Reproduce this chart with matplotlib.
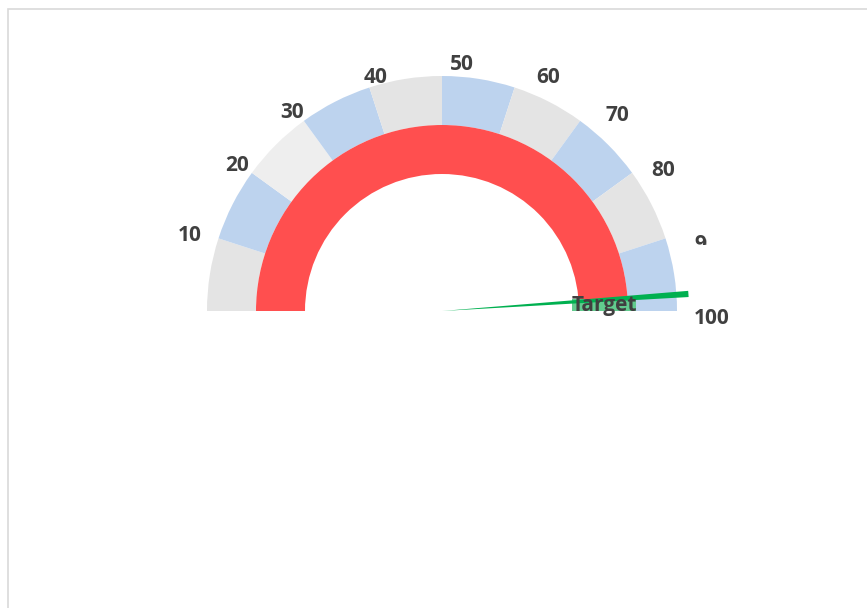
import numpy as np
import matplotlib
matplotlib.use('Agg')
import matplotlib.pyplot as plt
from matplotlib.patches import Wedge, Rectangle

# gauge data
band_values = [10, 10, 10, 10, 10, 10, 10, 10, 10, 10]
band_colors = ['#E4E4E4', '#BDD3EE', '#EEEEEE', '#BDD3EE', '#E4E4E4',
               '#BDD3EE', '#E4E4E4', '#BDD3EE', '#E4E4E4', '#BDD3EE']
tick_labels = ['10', '20', '30', '40', '50', '60', '70', '80', '90', '100']
actual_value = 100
target_value = 97.8
target_width = 0.8
target_label = 'Target'

# label nudges in pixels (dx right, dy down) - Excel places them a bit off
label_nudge = [(-7, 4), (4, 6), (2, 10), (13, 12), (20, 11),
               (26, 12), (24, 13), (12, 11), (19, 13), (12, 7)]

W, H = 867, 608
cx, cy = 442, H - 311
r_out, ring_w = 235, 49
r_red, red_w = 186, 49
r_needle = 247
total = sum(band_values)
FONT = 'Open Sans'


def ang(v):
    return 180 - 180.0 * v / total


fig = plt.figure(figsize=(W / 100, H / 100), dpi=100)
ax = fig.add_axes([0, 0, 1, 1])
ax.set_xlim(0, W)
ax.set_ylim(0, H)
ax.axis('off')

# chart frame (cut off at right and bottom)
ax.add_patch(Rectangle((7.5, -20), W + 40, H - 8.5 + 20, fill=False,
                       edgecolor='#D9D9D9', lw=1.2))

# outer scale bands
start = 0
for v, c in zip(band_values, band_colors):
    ax.add_patch(Wedge((cx, cy), r_out, ang(start + v), ang(start),
                       width=ring_w, facecolor=c, edgecolor='none'))
    start += v

# red value ring
ax.add_patch(Wedge((cx, cy), r_red, ang(actual_value), ang(0),
                   width=red_w, facecolor='#FF4F4F', edgecolor='none'))

# target needle
ax.add_patch(Wedge((cx, cy), r_needle, ang(target_value + target_width / 2),
                   ang(target_value - target_width / 2),
                   facecolor='#00B050', edgecolor='none', zorder=3))

# scale labels
cum = np.cumsum(band_values)
clip = Rectangle((0, H - 245), 707, 245, transform=ax.transData)
for lab, v, (dx, dy) in zip(tick_labels, cum, label_nudge):
    th = np.deg2rad(ang(v))
    x = cx + 258 * np.cos(th) + dx
    y = cy + 258 * np.sin(th) - dy
    t = ax.text(x, y, lab, ha='center', va='center', fontsize=15,
                fontweight='bold', color='#404040', family=FONT)
    if lab == '90':
        # Excel cuts this one off
        t.set_clip_path(clip)
        t.set_clip_on(True)

# target label with its light green fill over the ring
tx, ty = 604, H - 306
ax.add_patch(Rectangle((tx - 32, cy), 64, 12, facecolor='#62CB8E',
                       edgecolor='none', zorder=2.5))
ax.text(tx, ty, target_label, ha='center', va='center', fontsize=15,
        fontweight='bold', color='#404040', family=FONT, zorder=4)

fig.savefig('out.png', dpi=100)
